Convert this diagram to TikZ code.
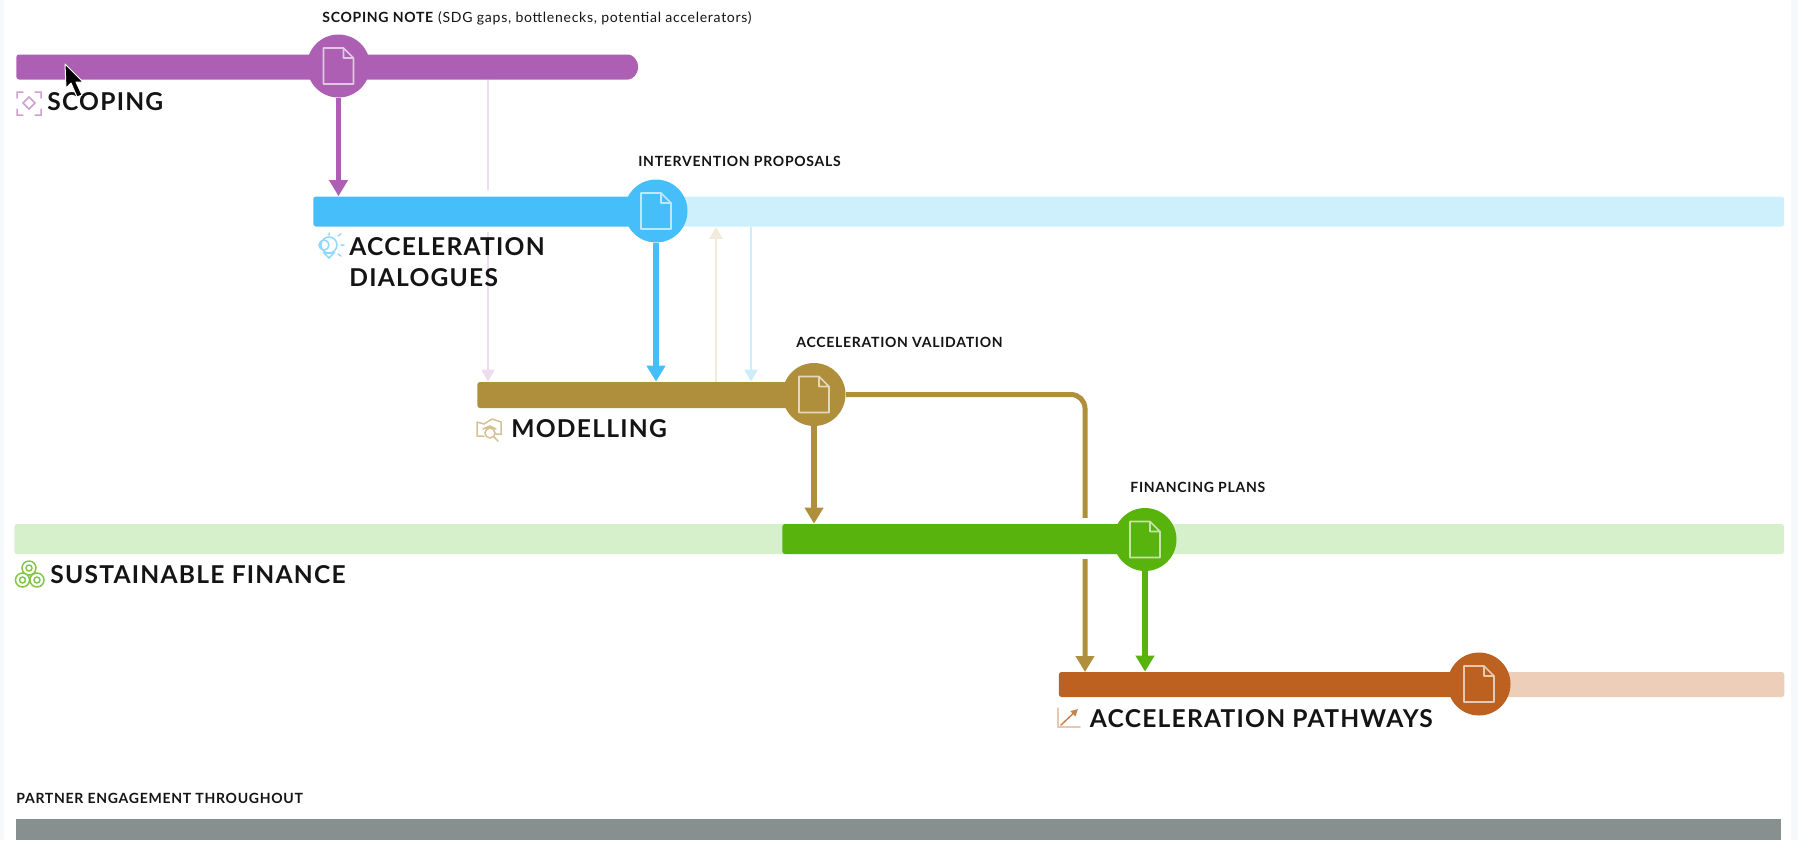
\documentclass[tikz,border=0pt]{standalone}
\usepackage{fontspec}
\setmainfont{Lato}
\newfontfamily\trackedfont[LetterSpace=5]{Lato}
\usepackage{xcolor}
\usepackage{tikz}
\usetikzlibrary{shapes.misc, arrows.meta, positioning, backgrounds, calc}
\definecolor{scopePurple}{HTML}{AD60B3}
\definecolor{dialogueBlue}{HTML}{46BEFA}
\definecolor{dialogueTrack}{HTML}{CDF0FC}
\definecolor{modelGold}{HTML}{B08F3C}
\definecolor{financeGreen}{HTML}{58B30D}
\definecolor{financeTrack}{HTML}{D6F0CB}
\definecolor{pathwayRust}{HTML}{BD6120}
\definecolor{pathwayTrack}{HTML}{EDCFB9}
\definecolor{partnerGrey}{HTML}{87908F}
\definecolor{inkBlack}{HTML}{141414}
\definecolor{edgeTint}{HTML}{F5F9FC}

\begin{document}
\begin{tikzpicture}[
    x=0.02cm, y=-0.02cm,
    bar/.style={rectangle, rounded corners=1.5pt, inner sep=0pt, anchor=west},
    docdot/.style={circle, inner sep=0pt, minimum size=1.26cm},
    phase/.style={font=\trackedfont\fontsize{14}{17.6}\selectfont\bfseries, text=inkBlack, inner sep=0pt, align=left},
    note/.style={font=\trackedfont\fontsize{8}{9}\selectfont, text=inkBlack, inner sep=0pt, text depth=0pt},
    arrow/.style={-{Stealth[length=3.2mm, width=3.6mm, inset=0pt]}, line width=0.11cm},
    faint/.style={-{Stealth[length=2.4mm, width=2.6mm, inset=0pt]}, line width=0.04cm},
    icon/.style={line width=0.03cm, line cap=round}
]
\useasboundingbox (0,0) rectangle (1798,840);

% Tracks and bars
\node[bar, rounded rectangle, rounded rectangle west arc=none, fill=scopePurple, minimum width=12.44cm, minimum height=0.5cm] (scopeBar) at (16,67) {};

\node[bar, fill=dialogueTrack, minimum width=22.54cm, minimum height=0.6cm] (dialogueTrack) at (657,211.5) {};
\node[bar, fill=dialogueBlue, minimum width=6.88cm, minimum height=0.6cm] (dialogueBar) at (313,211.5) {};

\node[bar, fill=modelGold, minimum width=6.76cm, minimum height=0.52cm] (modelBar) at (477,395) {};

\node[bar, fill=financeTrack, minimum width=35.4cm, minimum height=0.6cm] (financeTrack) at (14,539) {};
\node[bar, fill=financeGreen, minimum width=7.28cm, minimum height=0.6cm] (financeBar) at (782,539) {};

\node[bar, fill=pathwayTrack, minimum width=6.1cm, minimum height=0.5cm] (pathwayTrack) at (1479,684.5) {};
\node[bar, fill=pathwayRust, minimum width=8.41cm, minimum height=0.5cm] (pathwayBar) at (1058.5,684.5) {};

\node[rectangle, anchor=north west, inner sep=0pt, fill=partnerGrey, minimum width=35.3cm, minimum height=0.42cm] (partnerBar) at (16,819) {};

% Deliverables
\node[docdot, fill=scopePurple] (scopeDoc) at (338.5,66) {};
\node[docdot, fill=dialogueBlue] (dialogueDoc) at (656,211) {};
\node[docdot, fill=modelGold] (modelDoc) at (814,394.5) {};
\node[docdot, fill=financeGreen] (financeDoc) at (1145,539.5) {};
\node[docdot, fill=pathwayRust] (pathwayDoc) at (1479,684) {};

\foreach \n/\c in {scopeDoc/scopePurple, dialogueDoc/dialogueBlue, modelDoc/modelGold, financeDoc/financeGreen, pathwayDoc/pathwayRust} {
    \draw[shift={(\n)}, \c!35!white, line width=0.035cm, line join=round]
        (-15,-18) -- (5,-18) -- (15,-8) -- (15,18) -- (-15,18) -- cycle
        (5,-18) -- (5,-8) -- (15,-8);
}

% Tap points
\coordinate (scopeTap) at (488,66);
\coordinate (modelTap) at (716,394);
\coordinate (dialogueTap) at (751,212);
\coordinate (pathwayTap) at (1085,672);

% Links that run behind the bars
\begin{scope}[on background layer]
\fill[edgeTint] (0,0) rectangle (4,840) (1791,0) rectangle (1798,840);
\draw[faint, color=scopePurple!22!white] (scopeTap) -- (scopeTap |- modelBar.north);
\draw[arrow, modelGold, line width=0.1cm, rounded corners=0.28cm] (modelDoc) -| (pathwayTap);
\fill[white] (478,190) rectangle (498,232);
\fill[white] (1075,518) rectangle (1095,559);
\end{scope}

\draw[arrow, scopePurple] (scopeDoc.south) -- (scopeDoc.south |- dialogueBar.north);
\draw[arrow, dialogueBlue] (dialogueDoc.south) -- (dialogueDoc.south |- modelBar.north);
\draw[arrow, modelGold] (modelDoc.south) -- (modelDoc.south |- financeBar.north);
\draw[arrow, financeGreen] (financeDoc.south) -- (financeDoc.south |- pathwayBar.north);
\draw[faint, color=modelGold!18!white] (modelTap |- modelBar.north) -- (modelTap |- dialogueTrack.south);
\draw[faint, color=dialogueBlue!28!white] (dialogueTap |- dialogueTrack.south) -- (dialogueTap |- modelBar.north);

% Titles
\node[phase, below right=0.24cm and 0.62cm of scopeBar.south west] (scopeTitle) {SCOPING};
\node[phase, below right=0.2cm and 0.72cm of dialogueBar.south west] (dialogueTitle) {ACCELERATION\\DIALOGUES};
\node[phase, below right=0.22cm and 0.68cm of modelBar.south west] (modelTitle) {MODELLING};
\node[phase, below right=0.21cm and 0.72cm of financeTrack.south west] (financeTitle) {SUSTAINABLE FINANCE};
\node[phase, below right=0.24cm and 0.62cm of pathwayBar.south west] (pathwayTitle) {ACCELERATION PATHWAYS};

% Deliverable labels
\node[note, above right=0.22cm and -0.33cm of scopeDoc.north] (scopeNote) {\textbf{SCOPING NOTE} (SDG gaps, bottlenecks, potential accelerators)};
\node[note, above right=0.25cm and -0.36cm of dialogueDoc.north] (dialogueNote) {\textbf{INTERVENTION PROPOSALS}};
\node[note, above right=0.29cm and -0.36cm of modelDoc.north] (modelNote) {\textbf{ACCELERATION VALIDATION}};
\node[note, above right=0.29cm and -0.3cm of financeDoc.north] (financeNote) {\textbf{FINANCING PLANS}};
\node[note, above right=0.3cm and 0cm of partnerBar.north west] (partnerNote) {\textbf{PARTNER ENGAGEMENT THROUGHOUT}};

% Small icons
\draw[icon, scopePurple!60!white]
    (17,98) -- (17,92) -- (23,92) (35,92) -- (41,92) -- (41,98)
    (41,109) -- (41,115) -- (35,115) (23,115) -- (17,115) -- (17,109)
    (29,97) -- (35,103) -- (29,109) -- (23,103) -- cycle;
\draw[icon, dialogueBlue!60!white]
    (329,245) circle (8) (324,245) circle (5)
    (324,253) -- (329,258) -- (334,253) -- cycle
    (341,245) -- (344,245) (338,236) -- (341,234) (338,254) -- (341,256) (329,235) -- (329,233);
\draw[icon, modelGold!55!white]
    (477,422) -- (477,436) -- (484,436) (477,422) -- (484,424) -- (492,419) -- (501,422) -- (501,434) -- (496,434)
    (483,429) -- (490,426) -- (496,429) (490,433) circle (5) (494,437) -- (498,441);
\draw[icon, financeGreen!75!white]
    (29,568) circle (7) (22.5,580) circle (7) (37,580) circle (7)
    (29,568) circle (3) (22.5,580) circle (3) (37,580) circle (3);
\draw[icon, pathwayRust!35!white] (1058,708) -- (1058,727) -- (1080,727);
\draw[icon, pathwayRust!80!white, -{Stealth[length=1.4mm, width=1.4mm, inset=0pt]}] (1061,725) -- (1078,709);

% Pointer
\draw[white, fill=black, line width=0.02cm, line join=round]
    (65,64) -- (66,88) -- (71,83) -- (77,97) -- (82,95) -- (76,82) -- (83,82) -- cycle;

\end{tikzpicture}
\end{document}
